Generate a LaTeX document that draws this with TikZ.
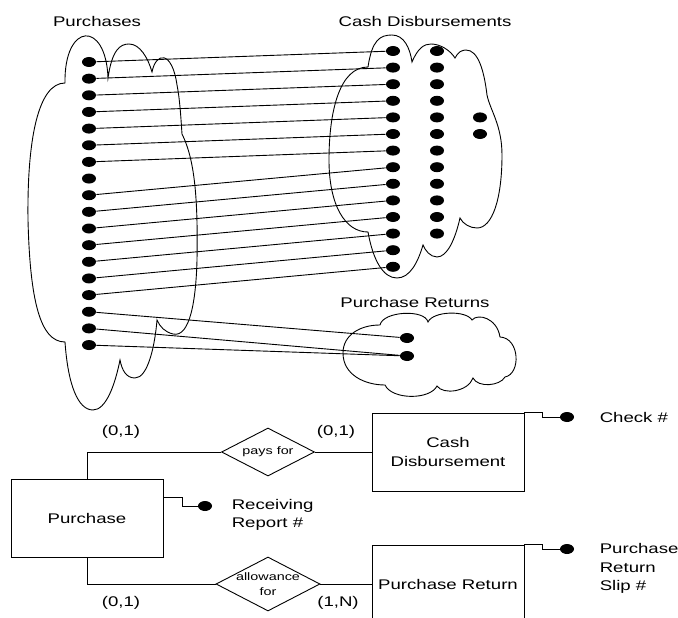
\documentclass[tikz,border=0pt]{standalone}
\usepackage{fontspec}
\setmainfont{Liberation Sans}[FakeStretch=1.33]
\usetikzlibrary{shapes.geometric,calc}
\begin{document}
\begin{tikzpicture}[x=1pt,y=-1pt,line width=0.9pt,
  dot/.style={ellipse,fill=black,minimum width=14pt,minimum height=10pt,inner sep=0pt},
  big/.style={font=\fontsize{14}{18.5}\selectfont},
  small/.style={font=\fontsize{10.8}{15}\selectfont},
  entity/.style={draw,minimum width=152pt,minimum height=78pt,inner sep=0pt,align=center,big},
  rel/.style={diamond,draw,inner sep=0pt}]
\useasboundingbox (0,0) rectangle (678,618);
\clip (0,0) rectangle (678,618);

% ---- set titles ----
\node[big] (tpur) at (97,21) {Purchases};
\node[big] (tcash) at (425,21) {Cash Disbursements};
\node[big] (tret) at (415,302) {Purchase Returns};

% ---- Purchases set outline ----
\draw (65,83) .. controls (64,22) and (106,20) .. (108,78)
  .. controls (112,50) and (120,44) .. (129,44) .. controls (140,44) and (148,58) .. (152,72)
  .. controls (156,52) and (172,50) .. (177,85) .. controls (180,100) and (181,120) .. (182,134)
  .. controls (195,160) and (198,200) .. (197,260)
  .. controls (196,300) and (190,338) .. (173,334) .. controls (165,332) and (160,327) .. (157,320)
  .. controls (155,345) and (148,378) .. (135,378) .. controls (126,378) and (122,370) .. (120,360)
  .. controls (115,385) and (106,410) .. (93,410) .. controls (78,410) and (68,385) .. (65,342)
  .. controls (40,342) and (30,300) .. (28,220) .. controls (27,140) and (38,83) .. (65,83) -- cycle;

% ---- Cash Disbursements set outline ----
\draw (368,67) .. controls (372,40) and (380,35) .. (392,35) .. controls (404,35) and (410,48) .. (412,62)
  .. controls (418,48) and (424,44) .. (431,44) .. controls (440,44) and (450,50) .. (455,58)
  .. controls (458,52) and (462,50) .. (466,50) .. controls (478,50) and (484,70) .. (487,95)
  .. controls (490,110) and (502,125) .. (502,155) .. controls (502,200) and (492,228) .. (477,228)
  .. controls (470,228) and (463,224) .. (460,218)
  .. controls (455,240) and (447,257) .. (437,257) .. controls (430,257) and (425,250) .. (423,245)
  .. controls (418,262) and (410,278) .. (397,278) .. controls (383,278) and (373,260) .. (368,232)
  .. controls (345,232) and (329,205) .. (329,160) .. controls (329,110) and (340,67) .. (368,67) -- cycle;

% ---- Purchase Returns set outline ----
\draw (380,325) .. controls (383,311) and (425,309) .. (428,322)
  .. controls (433,311) and (466,310) .. (472,320)
  .. controls (478,313) and (497,318) .. (500,337)
  .. controls (520,338) and (521,374) .. (505,377)
  .. controls (500,386) and (478,388) .. (473,378)
  .. controls (468,392) and (443,395) .. (437,386)
  .. controls (430,400) and (392,400) .. (385,385)
  .. controls (365,385) and (343,375) .. (343,353)
  .. controls (343,335) and (360,325) .. (380,325) -- cycle;

% ---- instances ----
\foreach \i in {1,...,18} \node[dot] (p\i) at (89,{62+16.65*(\i-1)}) {};
\foreach \i in {1,...,14} \node[dot] (c\i) at (393,{51+16.6*(\i-1)}) {};
\foreach \i in {1,...,12} \node[dot] (m\i) at (437,{51+16.6*(\i-1)}) {};
\node[dot] (x1) at (480,117.4) {};
\node[dot] (x2) at (480,134) {};
\node[dot] (r1) at (407,338) {};
\node[dot] (r2) at (407,356) {};

% ---- instance links ----
\foreach \i in {1,...,7} \draw (p\i) -- (c\i);
\foreach \i [evaluate=\i as \j using int(\i-1)] in {9,...,15} \draw (p\i) -- (c\j);
\draw (p16) -- (r1);
\draw (p17) -- (r2);
\draw (p18) -- (r2);

% ---- E-R diagram ----
\node[entity] (purchase) at (87,518) {Purchase};
\node[entity] (cashd) at (448,452) {Cash\\Disbursement};
\node[entity] (pret) at (448,584) {Purchase Return};
\node[rel,minimum width=93pt,minimum height=48pt,label={[small]center:pays for}] (pays) at (268,452) {};
\node[rel,minimum width=104pt,minimum height=54pt,label={[small,align=center]center:allowance\\for}] (allow) at (268,584) {};
\draw (purchase.north) |- (pays.west);
\draw (pays.east) -- (cashd.west);
\draw (purchase.south) |- (allow.west);
\draw (allow.east) -- (pret.west);

\node[big] (k1) at (121,432) {(0,1)};
\node[big] (k2) at (336,432) {(0,1)};
\node[big] (k3) at (121,603) {(0,1)};
\node[big] (k4) at (338,603) {(1,N)};

% ---- identifiers ----
\node[dot] (rrdot) at (205,506) {};
\node[big,anchor=west,align=left] (rrtext) at (228,515) {Receiving\\Report \#};
\draw ($(purchase.north east)+(0,19)$) -- ++(19,0) |- (rrdot);

\node[dot] (ckdot) at (567,417) {};
\node[big,anchor=west] (cktext) at (596,417) {Check \#};
\draw (cashd.north east) -- ++(18,0) |- (ckdot);

\node[dot] (psdot) at (567,549) {};
\node[big,anchor=west,align=left] (pstext) at (596,568.5) {Purchase\\Return\\Slip \#};
\draw (pret.north east) -- ++(18,0) |- (psdot);
\end{tikzpicture}
\end{document}
